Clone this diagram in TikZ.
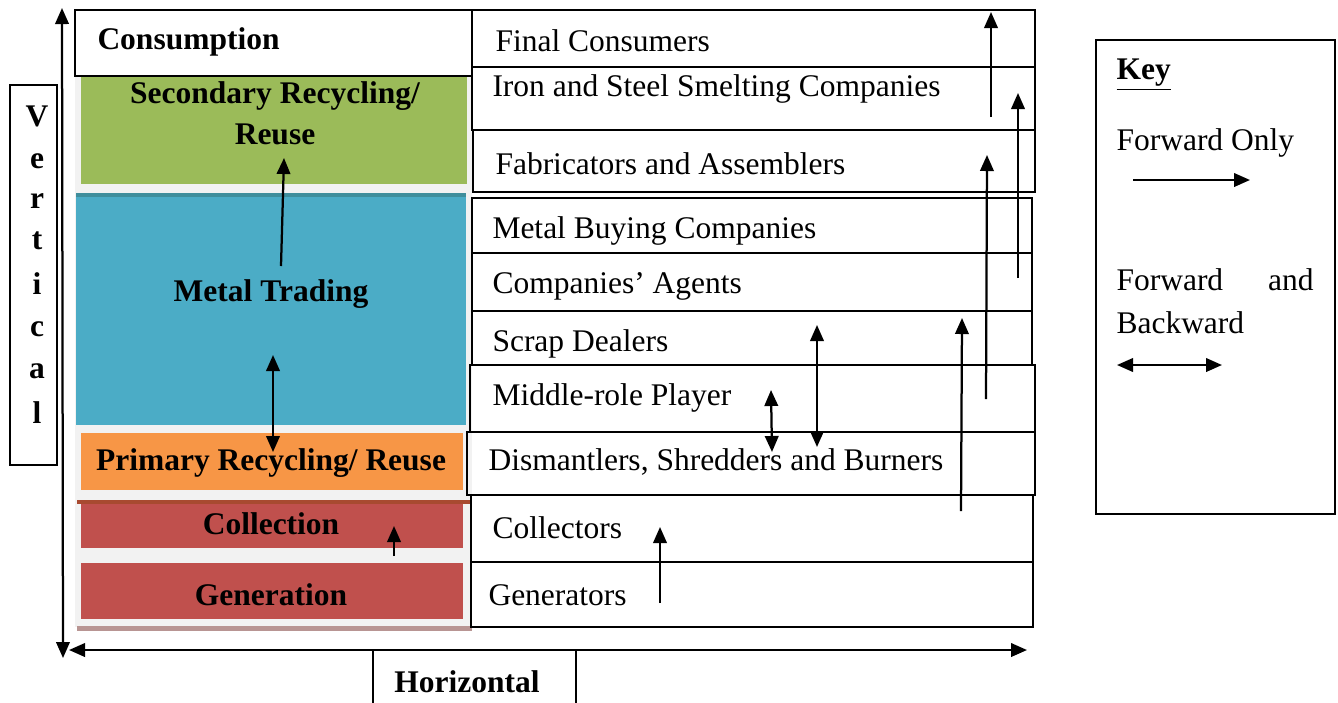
\documentclass[tikz,border=0pt]{standalone}
\usepackage{fontspec}
\setmainfont{Liberation Serif}
\usetikzlibrary{arrows.meta,fit}
\definecolor{cgreen}{HTML}{9BBB59}
\definecolor{cblue}{HTML}{4BACC6}
\definecolor{cblueedge}{HTML}{3F8E9C}
\definecolor{corange}{HTML}{F79646}
\definecolor{cred}{HTML}{C0504D}
\definecolor{credge}{HTML}{A84A30}
\definecolor{cpanel}{HTML}{F2F2F2}
\definecolor{crosy}{HTML}{B89593}
\begin{document}
\begin{tikzpicture}[x=0.4pt,y=-0.4pt,
  font=\fontsize{12.6}{15}\selectfont,
  box/.style={draw=black, line width=0.6pt, inner sep=0pt},
  band/.style={inner sep=0pt, draw=none},
  lbl/.style={anchor=west, inner sep=0pt},
  bl/.style={font=\fontsize{12.6}{16.4}\selectfont\bfseries, inner sep=0pt, align=center},
  fwd/.style={-{Triangle[length=6.4pt,width=5.4pt]}, line width=0.9pt},
  both/.style={{Triangle[length=6.4pt,width=5.4pt]}-{Triangle[length=6.4pt,width=5.4pt]}, line width=0.9pt}]
\useasboundingbox (0,0) rectangle (1338,702);

% left panel
\node[band, fill=cpanel, fit={(75,70)(472,627)}] (panel) {};
\node[band, fill=crosy, fit={(77,626)(472,631)}] (shadow) {};
\node[band, fill=cgreen, fit={(81,77)(467,184)}] (sec) {};
\node[band, fill=cblue, fit={(76,193)(466,425)}] (mt) {};
\node[band, fill=cblueedge, fit={(76,193)(466,197)}] (mtedge) {};
\node[band, fill=corange, fit={(81,433)(463,490)}] (pri) {};
\node[band, fill=cred, fit={(81,500)(463,548)}] (col) {};
\node[band, fill=credge, fit={(77,500)(472,504)}] (coledge) {};
\node[band, fill=cred, fit={(81,563)(463,619)}] (gen) {};
\node[box, fill=white, fit={(75,10)(472,76)}] (cons) {};

\node[bl, anchor=west] (const) at (97,42) {Consumption};
\node[bl] (sect) at (275,113) {Secondary Recycling/\\Reuse};
\node[bl] (mtt) at (271,294) {Metal Trading};
\node[bl] (prit) at (271,463) {Primary Recycling/ Reuse};
\node[bl] (colt) at (271,524) {Collection};
\node[bl] (gent) at (271,595) {Generation};

% right column
\node[box, fit={(472,10)(1035,67)}] (fc) {};
\node[box, fit={(472,67)(1035,130)}] (is) {};
\node[box, fit={(473,130)(1035,192)}] (fa) {};
\node[box, fit={(472,198)(1032,253)}] (mb) {};
\node[box, fit={(472,253)(1032,311)}] (ca) {};
\node[box, fit={(472,311)(1032,365)}] (sd) {};
\node[box, fit={(470,365)(1035,432)}] (mr) {};
\node[box, fit={(467,432)(1035,495)}] (ds) {};
\node[box, fit={(471,495)(1033,562)}] (cl) {};
\node[box, fit={(471,562)(1033,627)}] (gr) {};

\node[lbl] (fct) at (495,41) {Final Consumers};
\node[lbl] (ist) at (492,89) {Iron and Steel Smelting Companies};
\node[lbl] (fat) at (495,164) {Fabricators and Assemblers};
\node[lbl] (mbt) at (492,231) {Metal Buying Companies};
\node[lbl] (cat) at (492,286) {Companies’ Agents};
\node[lbl] (sdt) at (492,344) {Scrap Dealers};
\node[lbl] (mrt) at (492,398) {Middle-role Player};
\node[lbl] (dst) at (488,462) {Dismantlers, Shredders and Burners};
\node[lbl] (clt) at (492,528) {Collectors};
\node[lbl] (grt) at (488,595) {Generators};

% vertical label box
\node[box, fit={(10,85)(57,465)}] (vbox) {};
\foreach \l/\yy in {V/116,e/161,r/201,t/241,i/284,c/329,a/371,l/413}
  \node[bl] (v\yy) at (37,\yy) {\l};

% axes
\coordinate (vtop) at (62,8);
\coordinate (vbot) at (63,658);
\draw[both] (vbot) -- (vtop);
\coordinate (hl) at (69,650);
\coordinate (hr) at (1027,650);
\draw[both] (hl) -- (hr);
\node[box, fit={(373,650)(576,712)}] (hz) {};
\node[bl] (hzt) at (467,682) {Horizontal};

% flow arrows
\coordinate (a1s) at (991,117); \coordinate (a1e) at (991,12);
\coordinate (a2s) at (1018,278); \coordinate (a2e) at (1018,93);
\coordinate (a3s) at (986,399); \coordinate (a3e) at (987,155);
\coordinate (a4s) at (961,511); \coordinate (a4e) at (962,318);
\coordinate (a5s) at (817,447); \coordinate (a5e) at (817,325);
\coordinate (a6s) at (772,452); \coordinate (a6e) at (771,390);
\coordinate (a7s) at (660,603); \coordinate (a7e) at (660,527);
\coordinate (a8s) at (394,556); \coordinate (a8e) at (394,526);
\coordinate (a9s) at (273,452); \coordinate (a9e) at (273,355);
\coordinate (a10s) at (281,266); \coordinate (a10e) at (284,158);
\draw[fwd] (a1s) -- (a1e);
\draw[fwd] (a2s) -- (a2e);
\draw[fwd] (a3s) -- (a3e);
\draw[fwd] (a4s) -- (a4e);
\draw[both] (a5s) -- (a5e);
\draw[both] (a6s) -- (a6e);
\draw[fwd] (a7s) -- (a7e);
\draw[fwd] (a8s) -- (a8e);
\draw[both] (a9s) -- (a9e);
\draw[fwd] (a10s) -- (a10e);

% key
\node[box, fit={(1096,40)(1335,514)}] (key) {};
\node[lbl, font=\fontsize{12.6}{15}\selectfont\bfseries] (keyt) at (1116,75) {\underline{Key}};
\node[lbl] (fo) at (1116,143) {Forward Only};
\coordinate (k1s) at (1133,180); \coordinate (k1e) at (1250,180);
\draw[fwd] (k1s) -- (k1e);
\node[lbl] (fb1) at (1116,280) {Forward};
\node[anchor=east, inner sep=0pt] (fb2) at (1314,280) {and};
\node[lbl] (fb3) at (1116,323) {Backward};
\coordinate (k2s) at (1117,365); \coordinate (k2e) at (1222,365);
\draw[both] (k2s) -- (k2e);
\end{tikzpicture}
\end{document}
